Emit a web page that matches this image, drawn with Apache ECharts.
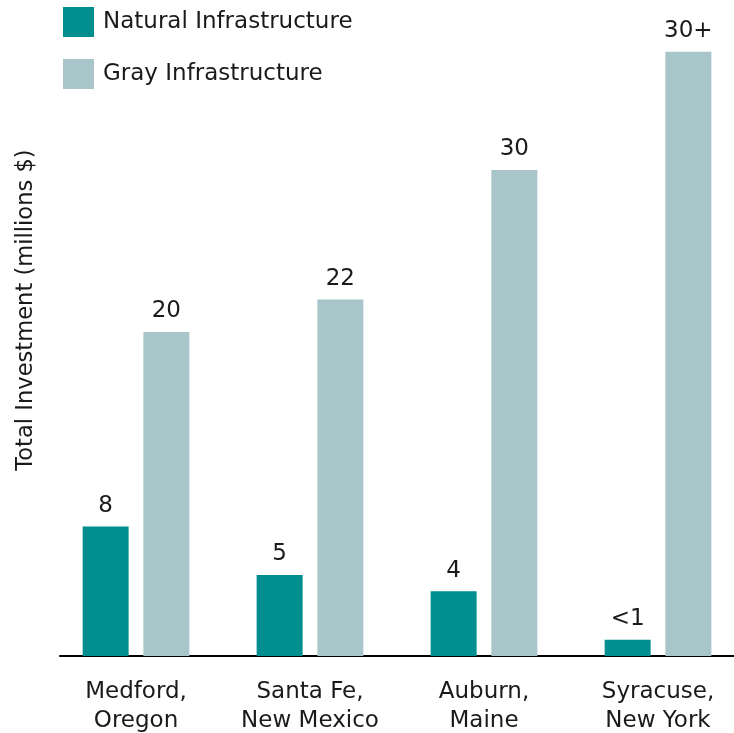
<!DOCTYPE html>
<html>
<head>
<meta charset="utf-8">
<script src="https://cdn.jsdelivr.net/npm/echarts@6/dist/echarts.min.js"></script>
<style>html,body{margin:0;padding:0;background:#fff;overflow:hidden}#c{width:760px;height:733px}</style>
</head>
<body>
<div id="c"></div>
<script>
const categories = ['Medford,\nOregon', 'Santa Fe,\nNew Mexico', 'Auburn,\nMaine', 'Syracuse,\nNew York'];
const naturalValues = [8, 5, 4, 1];
const naturalLabels = ['8', '5', '4', '<1'];
const grayValues = [20, 22, 30, 37.3];
const grayLabels = ['20', '22', '30', '30+'];

const FONT = 'DejaVu Sans';
const TXT = '#1a1a1a';
const chart = echarts.init(document.getElementById('c'), null, {renderer: 'canvas'});
chart.setOption({
  animation: false,
  textStyle: {fontFamily: FONT},
  legend: {
    orient: 'vertical', left: 63, top: 7, padding: 0, itemWidth: 31, itemHeight: 30, itemGap: 22,
    icon: 'rect', selectedMode: false,
    textStyle: {fontFamily: FONT, fontSize: 23, color: TXT, padding: [2, 0, 0, 4]},
    data: ['Natural Infrastructure', 'Gray Infrastructure']
  },
  grid: [
    {left: 49, width: 696, top: 8, bottom: 77, containLabel: false, outerBoundsMode: 'none'},
    {left: 60, right: 26, top: 8, bottom: 77, containLabel: false, outerBoundsMode: 'none'}
  ],
  xAxis: [
    {type: 'category', gridIndex: 0, data: categories,
     axisLine: {show: false}, axisTick: {show: false},
     axisLabel: {fontFamily: FONT, fontSize: 23, color: TXT, lineHeight: 29, margin: 22, interval: 0}},
    {type: 'category', gridIndex: 1, data: [''],
     axisLine: {show: true, lineStyle: {color: '#000', width: 2}}, axisTick: {show: false}, axisLabel: {show: false}}
  ],
  yAxis: [
    {type: 'value', gridIndex: 0, min: 0, max: 40,
     axisLine: {show: false}, axisTick: {show: false}, axisLabel: {show: false}, splitLine: {show: false},
     name: 'Total Investment (millions $)', nameLocation: 'middle', nameGap: 11,
     nameTextStyle: {fontFamily: FONT, fontSize: 22.6, color: TXT, padding: [0, 0, 0, 44]}},
    {type: 'value', gridIndex: 1, min: 0, max: 40, show: false}
  ],
  series: [
    {name: 'Natural Infrastructure', type: 'bar', xAxisIndex: 0, yAxisIndex: 0,
     data: naturalValues, barWidth: 46, barGap: '32%', itemStyle: {color: '#008e8f'},
     label: {show: true, position: 'top', distance: 9, fontFamily: FONT, fontSize: 23, color: TXT,
             formatter: p => naturalLabels[p.dataIndex]}},
    {name: 'Gray Infrastructure', type: 'bar', xAxisIndex: 0, yAxisIndex: 0,
     data: grayValues, barWidth: 46, barGap: '32%', itemStyle: {color: '#a8c6c9'},
     label: {show: true, position: 'top', distance: 9, fontFamily: FONT, fontSize: 23, color: TXT,
             formatter: p => grayLabels[p.dataIndex]}}
  ]
});
</script>
</body>
</html>
